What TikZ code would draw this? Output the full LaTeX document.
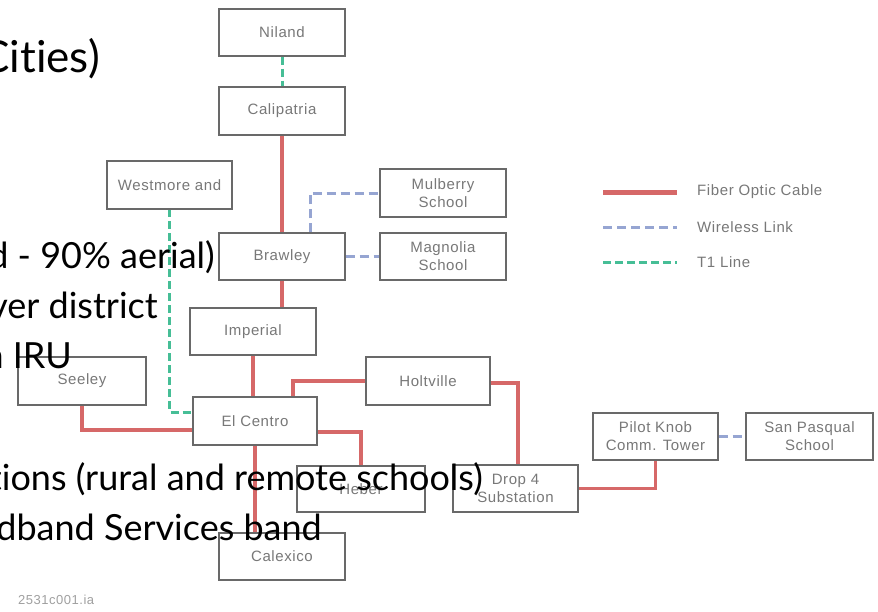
\documentclass[tikz,border=0pt]{standalone}
\usepackage{fontspec}
\setmainfont{Lato}[Ligatures={NoCommon}]
\newfontfamily\boxfont[LetterSpace=4]{Liberation Sans}
\usetikzlibrary{calc}
\definecolor{fiber}{RGB}{214,104,104}
\definecolor{wireless}{RGB}{150,165,210}
\definecolor{tone}{RGB}{70,190,150}
\definecolor{boxline}{RGB}{105,105,105}
\definecolor{boxtext}{RGB}{120,120,120}
\tikzset{
  box/.style={draw=boxline, line width=1.4pt, fill=white, minimum width=126pt, minimum height=47pt,
    inner sep=0pt, font=\boxfont\fontsize{15}{18}\selectfont, text=boxtext, align=center},
  fiberline/.style={draw=fiber, line width=3.5pt},
  wireline/.style={draw=wireless, line width=3pt, dash pattern=on 9pt off 5pt},
  t1line/.style={draw=tone, line width=3pt, dash pattern=on 8pt off 4pt},
  overlay/.style={anchor=base east, inner sep=0pt, text=black, font=\fontsize{36}{43}\selectfont},
  legendtext/.style={anchor=west, inner sep=0pt, text=boxtext, font=\boxfont\fontsize{15}{18}\selectfont}
}
\begin{document}
\begin{tikzpicture}[x=1pt,y=-1pt]
\useasboundingbox (0,0) rectangle (878,611);
\clip (0,0) rectangle (878,611);
\fill[white] (0,0) rectangle (878,611);

% boxes
\node[box] (Niland) at (282,32.5) {Niland};
\node[box] (Calipatria) at (282,111) {Calipatria};
\node[box, minimum width=125pt] (Westmore) at (169.5,185) {Westmore and};
\node[box] (Mulberry) at (443,193) {Mulberry\\School};
\node[box] (Magnolia) at (443,256.5) {Magnolia\\School};
\node[box] (Brawley) at (282,256.5) {Brawley};
\node[box] (Imperial) at (253,331.5) {Imperial};
\node[box, minimum width=127pt] (Seeley) at (82,381) {Seeley};
\node[box, minimum width=124pt, minimum height=48pt] (ElCentro) at (255,421) {El Centro};
\node[box, minimum width=124pt] (Holtville) at (428,381) {Holtville};
\node[box, minimum width=127pt, minimum height=46pt] (Heber) at (361,489) {Heber};
\node[box] (Calexico) at (282,556.5) {Calexico};
\node[box, minimum width=125pt] (Drop4) at (515.5,488.5) {Drop 4\\Substation};
\node[box, minimum width=125pt] (PilotKnob) at (655.5,436.5) {Pilot Knob\\Comm. Tower};
\node[box, minimum width=127pt] (SanPasqual) at (809.5,436.5) {San Pasqual\\School};

% connectors
\path[t1line] (Niland.south) -- (Calipatria.north);
\path[fiberline] (Calipatria.south) -- (Brawley.north);
\path[wireline] ($(Brawley.north)+(28,0)$) |- (Mulberry.west);
\path[wireline] (Brawley.east) -- (Magnolia.west);
\path[fiberline] (Brawley.south) -- (Brawley.south |- Imperial.north);
\path[fiberline] (Imperial.south) -- (Imperial.south |- ElCentro.north);
\path[t1line] (Westmore.south) |- ($(ElCentro.west)+(0,-9)$);
\path[fiberline] (Seeley.south) |- ($(ElCentro.west)+(0,9)$);
\path[fiberline] ($(ElCentro.north)+(38,0)$) |- (Holtville.west);
\path[fiberline] ($(Holtville.east)+(0,2)$) -| ($(Drop4.north)+(2.5,0)$);
\path[fiberline] ($(ElCentro.east)+(0,11)$) -| (Heber.north);
\path[fiberline] (ElCentro.south) -- (ElCentro.south |- Calexico.north);
\path[fiberline] (Drop4.east) -| (PilotKnob.south);
\path[wireline] (PilotKnob.east) -- (SanPasqual.west);

% redraw box outlines on top of line ends
\foreach \n in {Niland,Calipatria,Westmore,Mulberry,Magnolia,Brawley,Imperial,Seeley,ElCentro,Holtville,Heber,Calexico,Drop4,PilotKnob,SanPasqual}
  \draw[boxline, line width=1.4pt] (\n.north west) rectangle (\n.south east);

% legend
\coordinate (lfa) at (603,192); \coordinate (lfb) at (677,192);
\coordinate (lwa) at (603,227); \coordinate (lwb) at (677,227);
\coordinate (lta) at (603,262); \coordinate (ltb) at (677,262);
\draw[draw=fiber, line width=5pt] (lfa) -- (lfb);
\path[wireline] (lwa) -- (lwb);
\path[t1line] (lta) -- (ltb);
\node[legendtext] (lgf) at (697,192) {Fiber Optic Cable};
\node[legendtext] (lgw) at (697,227) {Wireless Link};
\node[legendtext] (lgt) at (697,262) {T1 Line};

% file tag
\node[anchor=west, inner sep=0pt, text=boxtext!70, font=\boxfont\fontsize{13}{15}\selectfont] (tag) at (18,600) {2531c001.ia};

% overlay slide text
\node[overlay, font=\fontsize{44}{52}\selectfont] (o0) at (100,72) {Cities)};
\node[overlay] (o1) at (215,268) {d - 90\% aerial)};
\node[overlay] (o2) at (158,318) {ver district};
\node[overlay] (o3) at (72,368) {n IRU};
\node[overlay] (o4) at (483,490) {tions (rural and remote schools)};
\node[overlay] (o5) at (322,540) {dband Services band};
\end{tikzpicture}
\end{document}
